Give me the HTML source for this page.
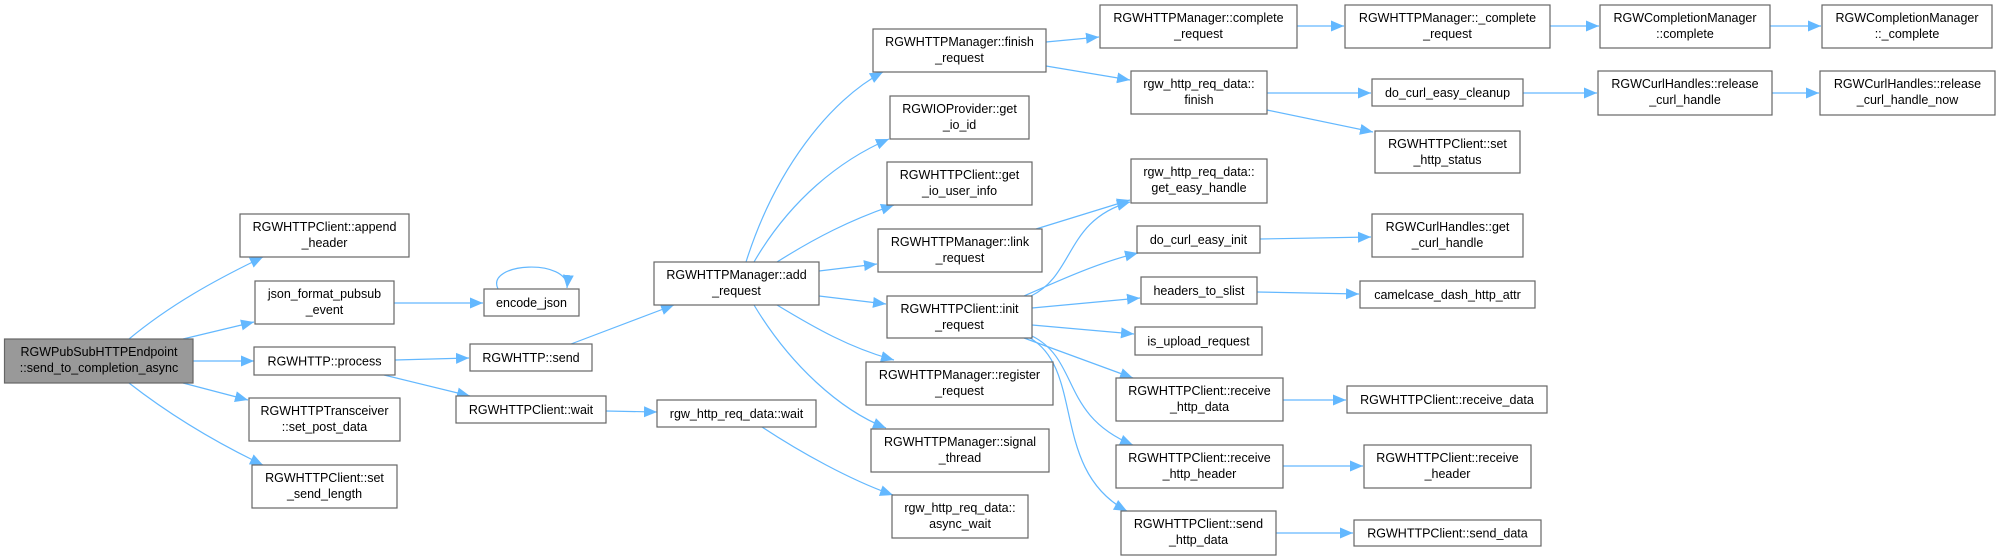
<!DOCTYPE html>
<html><head><meta charset="utf-8"><style>
html,body{margin:0;padding:0;background:#fff;}
svg{display:block;}
text{font-family:"Liberation Sans",Arial,sans-serif;font-size:12.5px;fill:#000;text-anchor:middle;}
.n{fill:#fff;stroke:#666;stroke-width:1.2;}
.e{fill:none;stroke:#63b8ff;stroke-width:1.2;}
</style></head><body>
<svg width="1997" height="560" viewBox="0 0 1997 560" xmlns="http://www.w3.org/2000/svg">
<defs><marker id="a" markerUnits="userSpaceOnUse" markerWidth="14" markerHeight="12" refX="13" refY="6" orient="auto"><path d="M0,0.5 L13,6 L0,11.5 z" fill="#63b8ff"/></marker></defs>
<g class="edges">
<path class="e" marker-end="url(#a)" d="M129,339 C170,305 215,280 263,257"/>
<path class="e" marker-end="url(#a)" d="M183,339 L254,322"/>
<path class="e" marker-end="url(#a)" d="M193,361 L254,361"/>
<path class="e" marker-end="url(#a)" d="M183,383 L248,400"/>
<path class="e" marker-end="url(#a)" d="M129,383 C170,415 215,442 263,465"/>
<path class="e" marker-end="url(#a)" d="M394,303 L483,303"/>
<path class="e" marker-end="url(#a)" d="M498,289 C485,262 570,258 567,288"/>
<path class="e" marker-end="url(#a)" d="M395,360 L469,358"/>
<path class="e" marker-end="url(#a)" d="M384,375 L470,396"/>
<path class="e" marker-end="url(#a)" d="M571,344 L674,305"/>
<path class="e" marker-end="url(#a)" d="M606,411 L657,412"/>
<path class="e" marker-end="url(#a)" d="M762,427 C800,452 850,480 893,495"/>
<path class="e" marker-end="url(#a)" d="M746,262 C775,170 830,100 883,72"/>
<path class="e" marker-end="url(#a)" d="M754,262 C790,200 840,160 889,139"/>
<path class="e" marker-end="url(#a)" d="M777,262 C815,238 850,220 894,205"/>
<path class="e" marker-end="url(#a)" d="M819,271 L877,264"/>
<path class="e" marker-end="url(#a)" d="M819,296 L886,304"/>
<path class="e" marker-end="url(#a)" d="M777,305 C815,328 850,348 894,360"/>
<path class="e" marker-end="url(#a)" d="M754,305 C790,365 840,410 886,428"/>
<path class="e" marker-end="url(#a)" d="M1046,42 L1099,37"/>
<path class="e" marker-end="url(#a)" d="M1046,66 L1130,80"/>
<path class="e" marker-end="url(#a)" d="M1297,26 L1344,26"/>
<path class="e" marker-end="url(#a)" d="M1550,26 L1599,26"/>
<path class="e" marker-end="url(#a)" d="M1770,26 L1821,26"/>
<path class="e" marker-end="url(#a)" d="M1267,93 L1371,93"/>
<path class="e" marker-end="url(#a)" d="M1267,110 L1373,132"/>
<path class="e" marker-end="url(#a)" d="M1523,93 L1597,93"/>
<path class="e" marker-end="url(#a)" d="M1772,93 L1819,93"/>
<path class="e" marker-end="url(#a)" d="M1036,229 L1130,200"/>
<path class="e" marker-end="url(#a)" d="M1031,296 C1075,275 1065,220 1130,202"/>
<path class="e" marker-end="url(#a)" d="M1024,296 C1060,280 1100,262 1138,253"/>
<path class="e" marker-end="url(#a)" d="M1032,308 L1140,298"/>
<path class="e" marker-end="url(#a)" d="M1032,325 L1134,334"/>
<path class="e" marker-end="url(#a)" d="M1024,338 L1133,378"/>
<path class="e" marker-end="url(#a)" d="M1032,336 C1080,360 1060,415 1133,445"/>
<path class="e" marker-end="url(#a)" d="M1030,338 C1085,370 1050,470 1127,511"/>
<path class="e" marker-end="url(#a)" d="M1260,239 L1371,237"/>
<path class="e" marker-end="url(#a)" d="M1257,292 L1359,294"/>
<path class="e" marker-end="url(#a)" d="M1283,400 L1346,400"/>
<path class="e" marker-end="url(#a)" d="M1283,466 L1363,466"/>
<path class="e" marker-end="url(#a)" d="M1276,533 L1353,533"/>
</g>
<g>
<rect x="4.5" y="339" width="188.5" height="44" fill="#999" stroke="#666" stroke-width="1.2"/><text x="99" y="356">RGWPubSubHTTPEndpoint</text><text x="99" y="372">::send_to_completion_async</text>
<rect class="n" x="240" y="214" width="169" height="43"/><text x="324.5" y="231">RGWHTTPClient::append</text><text x="324.5" y="247">_header</text>
<rect class="n" x="255" y="281" width="139" height="43"/><text x="324.5" y="298">json_format_pubsub</text><text x="324.5" y="314">_event</text>
<rect class="n" x="254" y="347" width="141" height="28"/><text x="324.5" y="365.5">RGWHTTP::process</text>
<rect class="n" x="249" y="398" width="151" height="43"/><text x="324.5" y="415">RGWHTTPTransceiver</text><text x="324.5" y="431">::set_post_data</text>
<rect class="n" x="252" y="465" width="145" height="43"/><text x="324.5" y="482">RGWHTTPClient::set</text><text x="324.5" y="498">_send_length</text>
<rect class="n" x="484" y="289" width="95" height="27"/><text x="531.5" y="307">encode_json</text>
<rect class="n" x="470" y="344" width="122" height="27"/><text x="531" y="362">RGWHTTP::send</text>
<rect class="n" x="456" y="396" width="150" height="27"/><text x="531" y="414">RGWHTTPClient::wait</text>
<rect class="n" x="654" y="262" width="165" height="43"/><text x="736.5" y="279">RGWHTTPManager::add</text><text x="736.5" y="295">_request</text>
<rect class="n" x="657" y="400" width="159" height="27"/><text x="736.5" y="418">rgw_http_req_data::wait</text>
<rect class="n" x="873" y="29" width="173" height="43"/><text x="959.5" y="46">RGWHTTPManager::finish</text><text x="959.5" y="62">_request</text>
<rect class="n" x="890" y="96" width="139" height="43"/><text x="959.5" y="113">RGWIOProvider::get</text><text x="959.5" y="129">_io_id</text>
<rect class="n" x="887" y="162" width="145" height="43"/><text x="959.5" y="179">RGWHTTPClient::get</text><text x="959.5" y="195">_io_user_info</text>
<rect class="n" x="878" y="229" width="164" height="43"/><text x="960" y="246">RGWHTTPManager::link</text><text x="960" y="262">_request</text>
<rect class="n" x="887" y="296" width="145" height="42"/><text x="959.5" y="313">RGWHTTPClient::init</text><text x="959.5" y="329">_request</text>
<rect class="n" x="866" y="362" width="187" height="43"/><text x="959.5" y="379">RGWHTTPManager::register</text><text x="959.5" y="395">_request</text>
<rect class="n" x="871" y="429" width="178" height="43"/><text x="960" y="446">RGWHTTPManager::signal</text><text x="960" y="462">_thread</text>
<rect class="n" x="892" y="495" width="136" height="43"/><text x="960" y="512">rgw_http_req_data::</text><text x="960" y="528">async_wait</text>
<rect class="n" x="1100" y="5" width="197" height="43"/><text x="1198.5" y="22">RGWHTTPManager::complete</text><text x="1198.5" y="38">_request</text>
<rect class="n" x="1131" y="71" width="136" height="43"/><text x="1199" y="88">rgw_http_req_data::</text><text x="1199" y="104">finish</text>
<rect class="n" x="1131" y="159" width="136" height="44"/><text x="1199" y="176">rgw_http_req_data::</text><text x="1199" y="192">get_easy_handle</text>
<rect class="n" x="1137" y="226" width="123" height="27"/><text x="1198.5" y="244">do_curl_easy_init</text>
<rect class="n" x="1141" y="277" width="116" height="27"/><text x="1199" y="295">headers_to_slist</text>
<rect class="n" x="1135" y="327" width="127" height="28"/><text x="1198.5" y="345.5">is_upload_request</text>
<rect class="n" x="1116" y="378" width="167" height="43"/><text x="1199.5" y="395">RGWHTTPClient::receive</text><text x="1199.5" y="411">_http_data</text>
<rect class="n" x="1116" y="445" width="167" height="43"/><text x="1199.5" y="462">RGWHTTPClient::receive</text><text x="1199.5" y="478">_http_header</text>
<rect class="n" x="1121" y="511" width="155" height="44"/><text x="1198.5" y="528">RGWHTTPClient::send</text><text x="1198.5" y="544">_http_data</text>
<rect class="n" x="1345" y="5" width="205" height="43"/><text x="1447.5" y="22">RGWHTTPManager::_complete</text><text x="1447.5" y="38">_request</text>
<rect class="n" x="1600" y="5" width="170" height="43"/><text x="1685" y="22">RGWCompletionManager</text><text x="1685" y="38">::complete</text>
<rect class="n" x="1822" y="5" width="170" height="43"/><text x="1907" y="22">RGWCompletionManager</text><text x="1907" y="38">::_complete</text>
<rect class="n" x="1372" y="79" width="151" height="27"/><text x="1447.5" y="97">do_curl_easy_cleanup</text>
<rect class="n" x="1598" y="71" width="174" height="44"/><text x="1685" y="88">RGWCurlHandles::release</text><text x="1685" y="104">_curl_handle</text>
<rect class="n" x="1820" y="71" width="175" height="44"/><text x="1907.5" y="88">RGWCurlHandles::release</text><text x="1907.5" y="104">_curl_handle_now</text>
<rect class="n" x="1375" y="131" width="145" height="42"/><text x="1447.5" y="148">RGWHTTPClient::set</text><text x="1447.5" y="164">_http_status</text>
<rect class="n" x="1372" y="214" width="151" height="43"/><text x="1447.5" y="231">RGWCurlHandles::get</text><text x="1447.5" y="247">_curl_handle</text>
<rect class="n" x="1360" y="281" width="175" height="27"/><text x="1447.5" y="299">camelcase_dash_http_attr</text>
<rect class="n" x="1347" y="386" width="200" height="27"/><text x="1447" y="404">RGWHTTPClient::receive_data</text>
<rect class="n" x="1364" y="445" width="167" height="43"/><text x="1447.5" y="462">RGWHTTPClient::receive</text><text x="1447.5" y="478">_header</text>
<rect class="n" x="1354" y="520" width="187" height="26"/><text x="1447.5" y="537.5">RGWHTTPClient::send_data</text>
</g>
</svg>
</body></html>
